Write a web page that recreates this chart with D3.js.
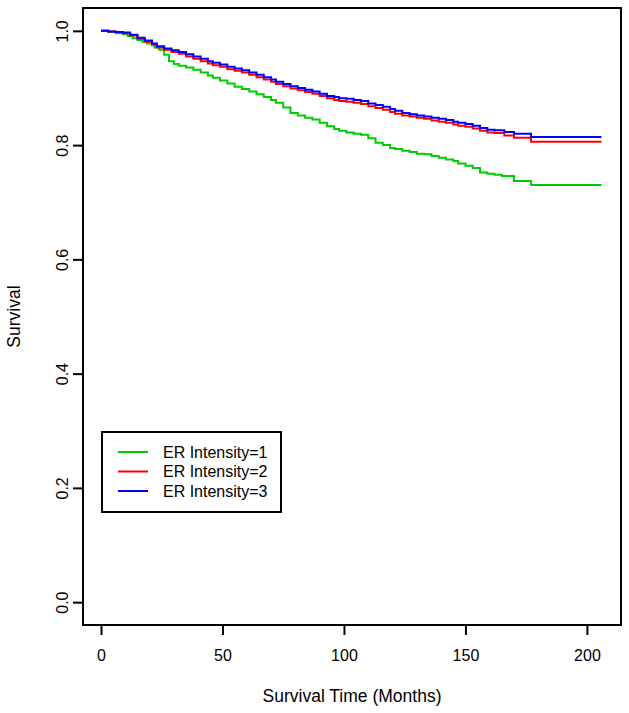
<!DOCTYPE html>
<html>
<head>
<meta charset="utf-8">
<script src="https://cdn.jsdelivr.net/npm/d3@7"></script>
<style>
  body { margin: 0; background: #fff; }
  text { font-family: "Liberation Sans", Arial, sans-serif; }
</style>
</head>
<body>
<div id="chart-area"></div>
<script>
// survival curves (months, survival proportion)
const groups = ["ER Intensity=1", "ER Intensity=2", "ER Intensity=3"]
const colors = ["#00cd00", "#ff0000", "#0000ff"]

const time1 = [0, 3, 6, 9, 11, 13, 15, 17, 19, 21, 22, 24, 26, 28, 30, 32, 35, 38, 41, 44,
    46, 49, 52, 55, 58, 61, 64, 67, 70, 72, 75, 78, 81, 84, 87, 90, 93, 96, 98, 101,
    104, 107, 110, 113, 116, 119, 121, 124, 127, 130, 133, 136, 139, 142, 145, 147, 150, 153, 156, 159,
    162, 165, 170, 177, 206]
const surv1 = [1.000, 0.998, 0.996, 0.994, 0.991, 0.987, 0.984, 0.981, 0.978, 0.975,
    0.971, 0.967, 0.958, 0.947, 0.942, 0.939, 0.936, 0.932, 0.927, 0.922,
    0.918, 0.913, 0.908, 0.902, 0.898, 0.894, 0.889, 0.884, 0.879, 0.874,
    0.866, 0.856, 0.852, 0.848, 0.845, 0.839, 0.833, 0.828, 0.825, 0.822,
    0.820, 0.818, 0.812, 0.804, 0.800, 0.795, 0.793, 0.790, 0.788, 0.785,
    0.784, 0.781, 0.778, 0.775, 0.772, 0.768, 0.764, 0.760, 0.752, 0.750,
    0.748, 0.746, 0.737, 0.730, 0.730]

const time23 = [0, 3, 6, 9, 12, 15, 18, 21, 23, 26, 29, 32, 35, 38, 41, 44, 46, 49, 52, 55,
    58, 61, 64, 67, 70, 72, 75, 78, 81, 84, 87, 90, 93, 96, 98, 101, 104, 107, 110, 113,
    116, 119, 121, 124, 127, 130, 133, 136, 139, 142, 145, 147, 150, 153, 156, 159, 162, 166, 170, 177,
    206]
const surv2 = [1.000, 0.999, 0.998, 0.996, 0.992, 0.986, 0.981, 0.976, 0.971, 0.967,
    0.963, 0.960, 0.955, 0.951, 0.947, 0.943, 0.940, 0.937, 0.933, 0.930,
    0.927, 0.923, 0.919, 0.915, 0.911, 0.907, 0.903, 0.899, 0.896, 0.893,
    0.890, 0.886, 0.882, 0.879, 0.877, 0.876, 0.874, 0.872, 0.868, 0.865,
    0.862, 0.858, 0.855, 0.852, 0.850, 0.848, 0.846, 0.843, 0.841, 0.839,
    0.836, 0.834, 0.832, 0.829, 0.825, 0.822, 0.821, 0.817, 0.813, 0.806,
    0.806]
const surv3 = [1.000, 0.999, 0.998, 0.997, 0.993, 0.988, 0.983, 0.978, 0.973, 0.969,
    0.966, 0.963, 0.959, 0.955, 0.951, 0.947, 0.944, 0.941, 0.937, 0.934,
    0.931, 0.927, 0.923, 0.919, 0.915, 0.911, 0.907, 0.903, 0.900, 0.897,
    0.894, 0.890, 0.886, 0.884, 0.882, 0.881, 0.879, 0.877, 0.873, 0.870,
    0.867, 0.863, 0.860, 0.856, 0.854, 0.852, 0.850, 0.848, 0.846, 0.844,
    0.841, 0.839, 0.837, 0.834, 0.830, 0.827, 0.826, 0.823, 0.820, 0.814,
    0.814]

const xTicks = [0, 50, 100, 150, 200]
const yTicks = [0, 0.2, 0.4, 0.6, 0.8, 1.0]

const series = [
    { name: groups[0], color: colors[0], pts: time1.map((t, i) => [t, surv1[i]]) },
    { name: groups[1], color: colors[1], pts: time23.map((t, i) => [t, surv2[i]]) },
    { name: groups[2], color: colors[2], pts: time23.map((t, i) => [t, surv3[i]]) }
]

const W = 629, H = 713
const FONT = 16
const TITLE_FONT = 17.5
// plot box in pixels
const BOX = { LEFT: 83, RIGHT: 621, TOP: 8, BOTTOM: 625 }

const svg = d3.select("#chart-area").append("svg")
    .attr("width", W)
    .attr("height", H)

const x = d3.scaleLinear().domain([0, 206]).range([101, 601.5])
const y = d3.scaleLinear().domain([-0.04, 1.04]).range([BOX.BOTTOM, BOX.TOP])

// curves (Kaplan-Meier style steps)
const line = d3.line()
    .x(d => x(d[0]))
    .y(d => y(d[1]))
    .curve(d3.curveStepAfter)

svg.selectAll("path.km")
    .data(series)
    .enter().append("path")
    .attr("class", "km")
    .attr("d", d => line(d.pts))
    .attr("fill", "none")
    .attr("stroke", d => d.color)
    .attr("stroke-width", 2)

// box
svg.append("rect")
    .attr("x", BOX.LEFT)
    .attr("y", BOX.TOP)
    .attr("width", BOX.RIGHT - BOX.LEFT)
    .attr("height", BOX.BOTTOM - BOX.TOP)
    .attr("fill", "none")
    .attr("stroke", "#000")
    .attr("stroke-width", 2)

// x axis
const xAxis = svg.append("g")
    .attr("transform", `translate(0,${BOX.BOTTOM})`)
    .call(d3.axisBottom(x).tickValues(xTicks).tickSize(10).tickPadding(15))
xAxis.select(".domain").remove()
xAxis.selectAll("line").attr("stroke-width", 2)
xAxis.selectAll("text").attr("font-size", FONT).attr("fill", "#000")
    .attr("font-family", "Liberation Sans, Arial, sans-serif")

// y axis with rotated labels
const yAxis = svg.append("g")
    .attr("transform", `translate(${BOX.LEFT},0)`)
    .call(d3.axisLeft(y).tickValues(yTicks).tickSize(10).tickFormat(d3.format(".1f")))
yAxis.select(".domain").remove()
yAxis.selectAll("line").attr("stroke-width", 2)
yAxis.selectAll("text")
    .attr("x", 0)
    .attr("y", -15)
    .attr("dy", 0)
    .attr("text-anchor", "middle")
    .attr("transform", "rotate(-90)")
    .attr("font-size", FONT)
    .attr("fill", "#000")
    .attr("font-family", "Liberation Sans, Arial, sans-serif")

// axis titles
svg.append("text")
    .attr("x", (BOX.LEFT + BOX.RIGHT) / 2)
    .attr("y", 702)
    .attr("text-anchor", "middle")
    .attr("font-size", TITLE_FONT)
    .text("Survival Time (Months)")

svg.append("text")
    .attr("transform", `translate(20,${(BOX.TOP + BOX.BOTTOM) / 2}) rotate(-90)`)
    .attr("text-anchor", "middle")
    .attr("font-size", TITLE_FONT)
    .text("Survival")

// legend
const legend = svg.append("g").attr("transform", "translate(102,432)")
legend.append("rect")
    .attr("width", 179)
    .attr("height", 80)
    .attr("fill", "#fff")
    .attr("stroke", "#000")
    .attr("stroke-width", 2)

const items = legend.selectAll("g.item")
    .data(series)
    .enter().append("g")
    .attr("class", "item")
    .attr("transform", (d, i) => `translate(0,${20 + i * 19.5})`)
items.append("line")
    .attr("x1", 16).attr("x2", 46)
    .attr("stroke", d => d.color)
    .attr("stroke-width", 2)
items.append("text")
    .attr("x", 61)
    .attr("dy", "0.35em")
    .attr("font-size", FONT)
    .text(d => d.name)
</script>
</body>
</html>
